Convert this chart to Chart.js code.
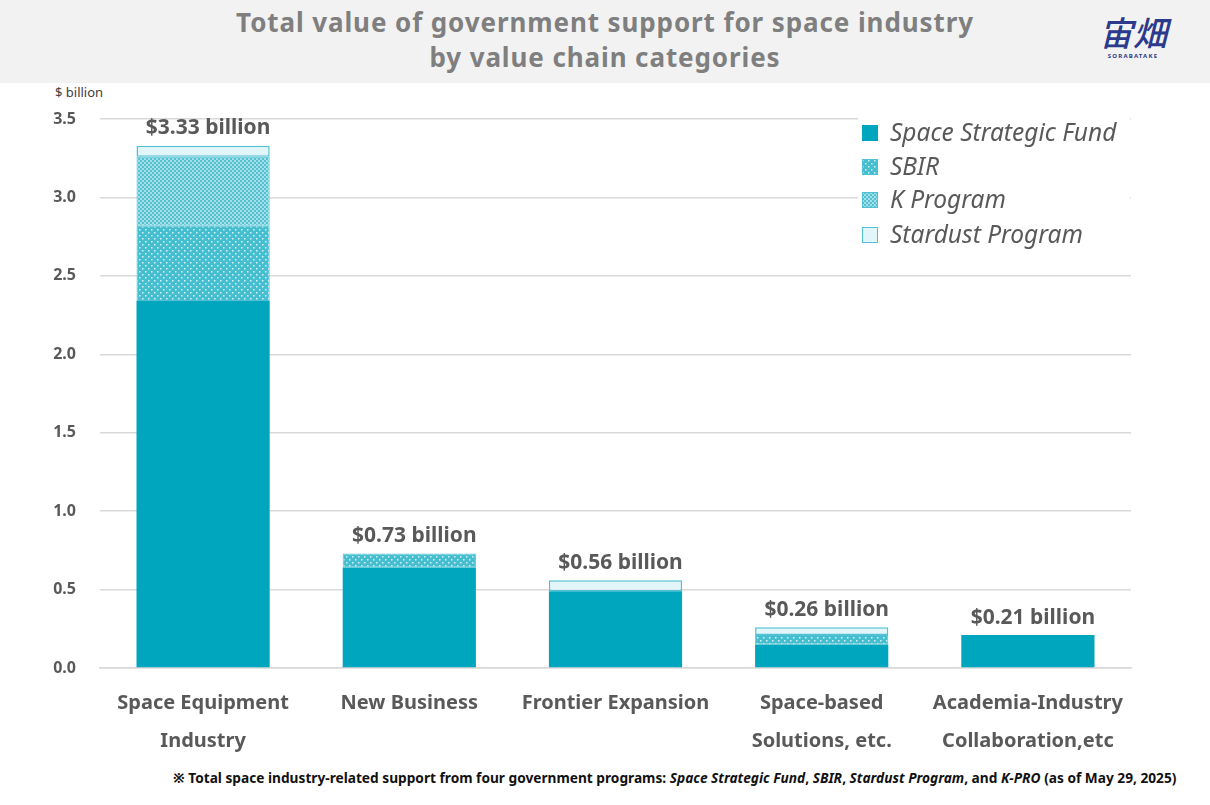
<!DOCTYPE html>
<html>
<head>
<meta charset="utf-8">
<script src="https://cdn.jsdelivr.net/npm/chart.js@4.4.1/dist/chart.umd.min.js"></script>
<style>
  body { margin: 0; background: #fff; font-family: "Noto Sans", sans-serif; }
  #wrap { position: relative; width: 1210px; height: 805px; overflow: hidden; }
  #head { position: absolute; left: 0; top: 0; width: 1210px; height: 83px; background: #f2f2f2; }
  #title { position: absolute; left: 0; top: 5px; width: 1210px; text-align: center;
           color: #7f7f7f; font-weight: bold; font-size: 26px; line-height: 35px; letter-spacing: 0.9px; }
  #logo { position: absolute; left: 1093px; top: 12px; width: 80px; text-align: center; color: #2b3a8c; }
  #logo .kanji { font-family: "Noto Sans CJK JP"; font-size: 34px; line-height: 40px; font-style: italic; font-weight: 500; }
  #logo .sub { font-size: 6px; font-weight: bold; letter-spacing: 1.2px; line-height: 8px; }
  #unit { position: absolute; left: 55px; top: 83px; font-size: 13px; color: #404040; }
  #note { position: absolute; left: 173px; top: 768px; font-size: 13.7px; font-weight: bold; color: #111; white-space: nowrap; }
  canvas { position: absolute; left: 0; top: 0; }
</style>
</head>
<body>
<div id="wrap">
  <div id="head"></div>
  <div id="title">Total value of government support for space industry<br>by value chain categories</div>
  <div id="logo"><div class="kanji">宙畑</div><div class="sub">SORABATAKE</div></div>
  <div id="unit">$ billion</div>
  <div id="note">※ Total space industry-related support from four government programs: <i>Space Strategic Fund</i>, <i>SBIR</i>, <i>Stardust Program</i>, and <i>K-PRO</i> (as of May 29, 2025)</div>
  <canvas id="grafico" width="1210" height="805"></canvas>
</div>
<script>
  // categorias e valores ($ billion)
  const categorias = [
    ["Space Equipment", "Industry"],
    ["New Business"],
    ["Frontier Expansion"],
    ["Space-based", "Solutions, etc."],
    ["Academia-Industry", "Collaboration,etc"]
  ];
  const spaceStrategicFund = [2.34, 0.64, 0.49, 0.15, 0.21];
  const sbir = [0.48, 0.09, null, 0.06, null];
  const kProgram = [0.44, null, null, null, null];
  const stardust = [0.07, null, 0.07, 0.05, null];
  const yTicks = [0, 0.5, 1.0, 1.5, 2.0, 2.5, 3.0, 3.5];

  const cinza = '#595959';

  // padroes de preenchimento
  function criarPadrao(tam, desenhar) {
    const c = document.createElement('canvas');
    c.width = tam; c.height = tam;
    const g = c.getContext('2d');
    desenhar(g);
    return c.getContext('2d').createPattern(c, 'repeat');
  }
  const padraoSbir = criarPadrao(6, (g) => {
    g.fillStyle = '#45bed0'; g.fillRect(0, 0, 6, 6);
    g.fillStyle = 'rgba(255,255,255,0.8)';
    g.fillRect(1, 1, 1.5, 1.5);
    g.fillRect(4, 4, 1.5, 1.5);
  });
  const padraoK = criarPadrao(4, (g) => {
    g.fillStyle = '#a6dfe8'; g.fillRect(0, 0, 4, 4);
    g.fillStyle = '#52c2d3';
    g.fillRect(0, 0, 2, 2);
    g.fillRect(2, 2, 2, 2);
  });

  const dados = {
    labels: categorias,
    datasets: [
      { label: 'Space Strategic Fund', data: spaceStrategicFund, backgroundColor: '#00a5be',
        borderWidth: 0 },
      { label: 'SBIR', data: sbir, backgroundColor: padraoSbir,
        borderColor: '#4fc1d3', borderWidth: 1 },
      { label: 'K Program', data: kProgram, backgroundColor: padraoK,
        borderColor: '#4fc1d3', borderWidth: 1 },
      { label: 'Stardust Program', data: stardust, backgroundColor: '#e2f5f8',
        borderColor: '#4fc1d3', borderWidth: 1.5 }
    ]
  };

  // totais acima das barras
  const pluginTotais = {
    id: 'totais',
    afterDatasetsDraw(chart) {
      const ctx = chart.ctx;
      const y = chart.scales.y;
      const meta0 = chart.getDatasetMeta(0);
      ctx.save();
      ctx.font = 'bold 21px "Noto Sans"';
      ctx.fillStyle = cinza;
      ctx.textAlign = 'center';
      ctx.textBaseline = 'bottom';
      for (let i = 0; i < categorias.length; i++) {
        let total = 0;
        chart.data.datasets.forEach((ds) => { total += ds.data[i] || 0; });
        const px = meta0.data[i].x + 5;
        const py = y.getPixelForValue(total) - 7;
        ctx.fillText('$' + total.toFixed(2) + ' billion', px, py);
      }
      ctx.restore();
    }
  };

  // legenda dentro da area do grafico
  const pluginLegenda = {
    id: 'legendaInterna',
    afterDraw(chart) {
      const ctx = chart.ctx;
      const area = chart.chartArea;
      const x0 = area.right - 269;
      const ys = [133, 167, 200, 235];
      ctx.save();
      ctx.font = 'italic 24.5px "Noto Sans"';
      ctx.textBaseline = 'middle';
      chart.data.datasets.forEach((ds, i) => {
        const yy = ys[i];
        ctx.fillStyle = '#fff';
        ctx.fillRect(x0 - 4, yy - 16, 272, 32);
        ctx.fillStyle = ds.backgroundColor;
        ctx.fillRect(x0, yy - 8, 16, 16);
        if (ds.borderWidth) {
          ctx.strokeStyle = ds.borderColor;
          ctx.lineWidth = 1;
          ctx.strokeRect(x0 + 0.5, yy - 7.5, 15, 15);
        }
        ctx.fillStyle = cinza;
        ctx.fillText(ds.label, x0 + 28, yy + 1);
      });
      ctx.restore();
    }
  };

  const config = {
    type: 'bar',
    data: dados,
    options: {
      responsive: false,
      animation: false,
      layout: { padding: { left: 0, right: 79, top: 119, bottom: 0 } },
      datasets: {
        bar: { categoryPercentage: 1.0, barPercentage: 0.646, borderSkipped: false }
      },
      plugins: {
        legend: { display: false },
        tooltip: { enabled: false }
      },
      scales: {
        x: {
          stacked: true,
          grid: { display: false },
          border: { display: true, color: '#d9d9d9', width: 1.5 },
          ticks: {
            color: cinza,
            font: { family: 'Noto Sans', size: 20, weight: 'bold', lineHeight: 1.9 },
            padding: 8,
            maxRotation: 0,
            autoSkip: false
          },
          afterFit(scale) { scale.height = 137; }
        },
        y: {
          stacked: true,
          min: 0,
          max: 3.5,
          afterBuildTicks(scale) { scale.ticks = yTicks.map((v) => ({ value: v })); },
          grid: { color: '#d9d9d9', lineWidth: 1.5, drawTicks: false },
          border: { display: false },
          ticks: {
            color: cinza,
            font: { family: 'Noto Sans', size: 16, weight: 'bold' },
            padding: 24,
            callback: (v) => v.toFixed(1)
          },
          afterFit(scale) { scale.width = 100; }
        }
      }
    },
    plugins: [pluginTotais, pluginLegenda]
  };

  const grafico = new Chart(document.getElementById('grafico'), config);
</script>
</body>
</html>
